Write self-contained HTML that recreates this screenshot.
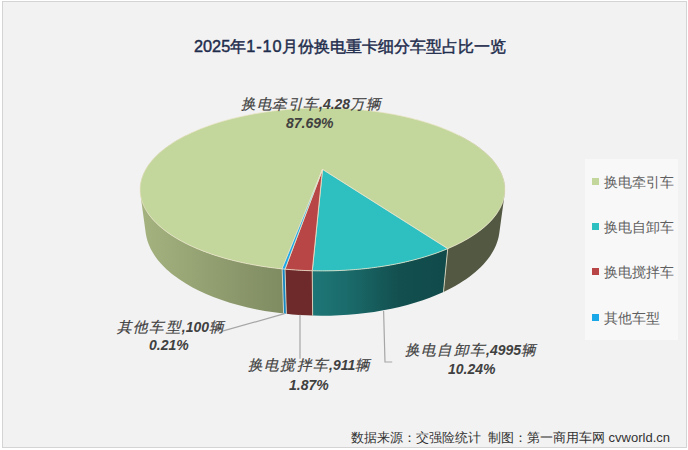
<!DOCTYPE html>
<html><head><meta charset="utf-8">
<style>
html,body{margin:0;padding:0;width:688px;height:450px;overflow:hidden;background:#fff;}
body{position:relative;font-family:"Liberation Sans",sans-serif;}
#frame{position:absolute;left:2px;top:1px;width:683px;height:445px;border:1px solid #d4d4d4;background:#f2f2f2;}
.t{position:absolute;white-space:nowrap;}
#title{left:194px;top:36px;font-size:16.3px;font-weight:normal;color:#1f2d4d;-webkit-text-stroke:0.45px #1f2d4d;}
.lbl{position:absolute;white-space:nowrap;font-style:italic;font-weight:bold;color:#404040;font-size:14px;text-align:center;line-height:20px;}
.lbl b{font-weight:normal;font-size:14.5px;letter-spacing:1.2px;-webkit-text-stroke:0.2px #404040;}
#legend{position:absolute;left:585px;top:159px;width:93px;height:181px;background:#f8f8f8;}
.li{position:absolute;left:7px;height:16px;font-size:14px;color:#5f5f5f;white-space:nowrap;line-height:16px;}
.li i{position:absolute;left:0;top:4px;width:7px;height:7px;}
.li span{position:absolute;left:12px;top:0;}
#wm{left:351px;top:429px;font-size:13px;color:#333;}
svg{position:absolute;left:0;top:0;}
</style></head><body>
<div id="frame"></div>
<svg width="688" height="450" viewBox="0 0 688 450">
<defs>
<linearGradient id="gs" gradientUnits="userSpaceOnUse" x1="140" y1="0" x2="505" y2="0">
<stop offset="0" stop-color="#a5b380"/>
<stop offset="0.39" stop-color="#7f8b61"/>
<stop offset="0.84" stop-color="#525841"/>
<stop offset="1" stop-color="#525841"/>
</linearGradient>
<linearGradient id="ts" gradientUnits="userSpaceOnUse" x1="312" y1="0" x2="446" y2="0">
<stop offset="0" stop-color="#1e7676"/>
<stop offset="0.25" stop-color="#1b6c6c"/>
<stop offset="0.65" stop-color="#134f4f"/>
<stop offset="1" stop-color="#114a4a"/>
</linearGradient>
</defs>
<g stroke="#ece6cc" stroke-width="0.8" stroke-linejoin="round">
<path d="M455.69,169.18 L459.61,171.48 L463.39,173.87 L467.03,176.34 L470.53,178.90 L473.87,181.53 L477.05,184.24 L480.05,187.04 L482.57,189.58 L485.23,192.52 L487.43,195.19 L489.72,198.26 L491.57,201.05 L493.24,203.89 L494.74,206.78 L496.05,209.72 L497.21,212.85 L495.36,215.45 L493.27,218.07 L490.96,220.67 L488.81,222.89 L486.10,225.46 L483.60,227.63 L480.48,230.15 L477.63,232.28 L474.11,234.72 L470.91,236.79 L467.55,238.82 L464.04,240.81 L459.74,243.08 L455.89,244.98 L451.88,246.84 L447.73,248.65 L443.47,291.92 L447.51,289.98 L451.39,287.99 L455.14,285.94 L459.32,283.50 L462.74,281.36 L466.01,279.18 L469.13,276.96 L472.58,274.32 L475.36,272.03 L478.41,269.33 L480.86,266.98 L483.52,264.21 L485.64,261.82 L487.91,259.01 L489.97,256.19 L491.83,253.35 L494.13,249.28 L496.01,245.20 L497.50,241.12 L498.09,239.09 L498.67,236.66 L499.24,233.43 L504.77,192.93 L504.94,189.24 L504.89,187.41 L504.70,185.23 L504.45,183.43 L504.03,181.28 L503.59,179.51 L502.94,177.40 L501.46,173.59 L500.49,171.54 L499.42,169.52 L497.16,165.89 L494.32,162.03 L491.37,158.59 L487.81,154.96 L483.90,151.44 L479.68,148.06 L475.15,144.81 L469.92,141.43 L464.83,138.46 L459.03,135.39 L455.69,169.18Z M143.49,173.77 L142.51,176.19 L141.80,178.29 L141.21,180.40 L140.74,182.54 L140.39,184.70 L140.18,186.88 L140.09,189.07 L140.13,191.28 L140.41,194.24 L145.82,233.64 L146.40,236.87 L147.48,240.93 L148.78,244.60 L150.60,248.68 L152.60,252.35 L154.93,256.00 L157.60,259.63 L160.62,263.23 L163.98,266.80 L166.42,269.15 L168.57,271.08 L171.29,273.39 L173.68,275.28 L179.30,279.37 L185.44,283.34 L192.08,287.15 L198.54,290.48 L206.11,293.97 L213.38,296.96 L221.80,300.05 L229.80,302.65 L238.13,305.05 L246.75,307.23 L255.63,309.18 L264.76,310.89 L274.09,312.35 L283.61,313.56 L282.16,268.85 L270.35,267.47 L259.77,265.90 L248.55,263.87 L237.71,261.53 L227.30,258.89 L217.37,255.98 L212.60,254.42 L207.96,252.80 L203.46,251.13 L198.39,249.10 L194.20,247.31 L190.15,245.46 L186.26,243.57 L181.92,241.31 L178.36,239.33 L174.42,236.97 L171.20,234.91 L167.66,232.46 L164.80,230.34 L161.66,227.83 L159.15,225.65 L156.42,223.09 L153.91,220.50 L151.62,217.89 L149.54,215.28 L147.82,212.85 L148.90,209.92 L150.20,206.98 L151.68,204.08 L153.57,200.89 L155.43,198.10 L157.72,195.03 L159.93,192.36 L162.60,189.43 L165.13,186.89 L168.14,184.10 L171.33,181.39 L174.68,178.76 L178.18,176.21 L181.83,173.75 L185.62,171.36 L189.55,169.06 L186.22,135.28 L182.16,137.39 L178.25,139.57 L174.47,141.82 L171.25,143.89 L167.76,146.29 L164.80,148.49 L161.63,151.02 L158.96,153.34 L156.14,156.01 L153.79,158.45 L151.61,160.94 L149.59,163.47 L147.75,166.06 L146.09,168.70 L144.62,171.39 L143.49,173.77Z" fill="url(#gs)" stroke="none"/>
<path d="M349.09,270.00 L339.94,270.50 L330.73,270.79 L321.49,270.87 L312.25,270.74 L312.62,315.58 L321.53,315.72 L330.43,315.63 L339.31,315.32 L348.14,314.79 L356.89,314.04 L365.54,313.07 L374.06,311.89 L383.35,310.34 L391.53,308.74 L399.50,306.94 L407.25,304.95 L415.59,302.54 L422.82,300.19 L429.77,297.69 L436.43,295.03 L443.47,291.92 L447.74,248.65 L442.69,250.69 L437.45,252.67 L432.02,254.56 L426.42,256.36 L420.63,258.08 L414.68,259.71 L408.57,261.24 L402.31,262.66 L395.91,263.99 L389.38,265.20 L382.72,266.30 L375.96,267.29 L369.11,268.17 L362.17,268.92 L355.15,269.55 L349.09,270.00Z" fill="url(#ts)" stroke="none"/>
<path d="M285.02,269.13 L286.35,313.85 L292.36,314.43 L299.42,314.96 L306.52,315.36 L312.63,315.58 L312.27,270.74 L304.87,270.49 L298.56,270.16 L292.29,269.74 L285.02,269.13Z" fill="#6e2a2a" stroke="none"/>
<path d="M282.01,268.84 L283.45,313.53 L286.36,313.86 L285.03,269.14 L282.01,268.84Z" fill="#1787c4" stroke="none"/>
<path d="M282.16,268.86 L283.60,313.55 M447.73,248.66 L443.47,291.91 M312.26,270.75 L312.63,315.57 M285.02,269.14 L286.36,313.85" fill="none"/>
<path d="M322.52,169.38 L282.16,268.86 L280.17,268.65 L278.19,268.44 L276.22,268.21 L274.26,267.98 L272.30,267.73 L270.35,267.48 L268.41,267.21 L266.47,266.94 L264.55,266.66 L262.63,266.36 L260.72,266.06 L258.82,265.75 L256.93,265.43 L255.05,265.10 L253.18,264.77 L251.32,264.42 L249.47,264.06 L247.63,263.70 L245.80,263.33 L243.98,262.94 L242.17,262.55 L240.38,262.15 L238.59,261.75 L236.82,261.33 L235.06,260.91 L233.32,260.48 L231.58,260.04 L229.86,259.59 L228.15,259.13 L226.45,258.67 L224.77,258.20 L223.10,257.72 L221.45,257.23 L219.81,256.74 L218.18,256.24 L216.57,255.73 L214.97,255.22 L213.38,254.69 L211.81,254.17 L210.26,253.63 L208.72,253.09 L207.20,252.54 L205.69,251.98 L204.20,251.42 L202.72,250.85 L201.26,250.28 L199.81,249.70 L198.38,249.11 L196.97,248.52 L195.57,247.92 L194.19,247.32 L192.83,246.71 L191.48,246.09 L190.15,245.47 L188.84,244.85 L187.54,244.22 L186.26,243.58 L185.00,242.94 L183.75,242.30 L182.52,241.65 L181.31,240.99 L180.12,240.33 L178.94,239.67 L177.78,239.00 L176.64,238.33 L175.52,237.66 L174.41,236.98 L173.32,236.29 L172.25,235.61 L171.20,234.92 L170.16,234.22 L169.15,233.53 L168.15,232.82 L167.17,232.12 L166.20,231.41 L165.26,230.70 L164.33,229.99 L163.42,229.27 L162.53,228.56 L161.65,227.84 L160.80,227.11 L159.96,226.39 L159.14,225.66 L158.34,224.93 L157.55,224.20 L156.79,223.46 L156.04,222.73 L155.31,221.99 L154.60,221.25 L153.90,220.51 L153.22,219.76 L152.56,219.02 L151.92,218.27 L151.30,217.53 L150.69,216.78 L150.10,216.03 L149.53,215.28 L148.98,214.53 L148.44,213.78 L147.92,213.03 L147.42,212.27 L146.94,211.52 L146.47,210.77 L146.02,210.01 L145.59,209.26 L145.17,208.51 L144.77,207.75 L144.39,207.00 L144.03,206.24 L143.68,205.49 L143.35,204.73 L143.03,203.98 L142.74,203.23 L142.45,202.47 L142.19,201.72 L141.94,200.97 L141.71,200.22 L141.49,199.47 L141.29,198.72 L141.10,197.97 L140.93,197.22 L140.78,196.47 L140.64,195.73 L140.52,194.98 L140.42,194.24 L140.33,193.49 L140.25,192.75 L140.19,192.01 L140.14,191.28 L140.11,190.54 L140.10,189.80 L140.10,189.07 L140.11,188.34 L140.14,187.61 L140.19,186.88 L140.25,186.15 L140.32,185.43 L140.40,184.70 L140.51,183.98 L140.62,183.26 L140.75,182.55 L140.89,181.83 L141.05,181.12 L141.22,180.41 L141.40,179.70 L141.60,178.99 L141.81,178.29 L142.03,177.59 L142.27,176.89 L142.52,176.19 L142.78,175.50 L143.06,174.81 L143.35,174.12 L143.65,173.43 L143.96,172.75 L144.29,172.07 L144.63,171.39 L144.98,170.72 L145.34,170.04 L145.71,169.37 L146.10,168.71 L146.50,168.04 L146.90,167.38 L147.33,166.72 L147.76,166.07 L148.20,165.42 L148.66,164.77 L149.12,164.12 L149.60,163.48 L150.09,162.84 L150.59,162.20 L151.09,161.57 L151.61,160.94 L152.15,160.32 L152.69,159.69 L153.24,159.07 L153.80,158.45 L154.37,157.84 L154.95,157.23 L155.54,156.62 L156.14,156.02 L156.75,155.42 L157.37,154.82 L158.00,154.23 L158.64,153.64 L159.29,153.06 L159.95,152.47 L160.62,151.89 L161.29,151.32 L161.98,150.75 L162.67,150.18 L163.37,149.61 L164.08,149.05 L164.80,148.49 L165.53,147.94 L166.27,147.39 L167.01,146.84 L167.77,146.30 L168.53,145.76 L169.29,145.22 L170.07,144.69 L170.86,144.16 L171.65,143.64 L172.45,143.12 L173.26,142.60 L174.07,142.09 L174.89,141.58 L175.72,141.07 L176.56,140.57 L177.40,140.07 L178.25,139.57 L179.11,139.08 L179.98,138.60 L180.85,138.11 L181.72,137.63 L182.61,137.16 L183.50,136.68 L184.40,136.22 L185.30,135.75 L186.21,135.29 L187.13,134.83 L188.05,134.38 L188.98,133.93 L189.92,133.49 L190.86,133.05 L191.80,132.61 L192.76,132.18 L193.71,131.75 L194.68,131.32 L195.65,130.90 L196.62,130.48 L197.60,130.07 L198.59,129.65 L199.58,129.25 L200.57,128.85 L201.58,128.45 L202.58,128.05 L203.59,127.66 L204.61,127.27 L205.63,126.89 L206.66,126.51 L207.69,126.14 L208.72,125.76 L209.76,125.40 L210.80,125.03 L211.85,124.67 L212.91,124.32 L213.96,123.96 L215.03,123.62 L216.09,123.27 L217.16,122.93 L218.24,122.59 L219.31,122.26 L220.40,121.93 L221.48,121.61 L222.57,121.29 L223.67,120.97 L224.76,120.65 L225.86,120.34 L226.97,120.04 L228.08,119.74 L229.19,119.44 L230.30,119.15 L231.42,118.86 L232.54,118.57 L233.67,118.29 L234.80,118.01 L235.93,117.73 L237.06,117.46 L238.20,117.19 L239.34,116.93 L240.49,116.67 L241.63,116.42 L242.78,116.16 L243.93,115.92 L245.09,115.67 L246.25,115.43 L247.41,115.20 L248.57,114.96 L249.74,114.74 L250.90,114.51 L252.08,114.29 L253.25,114.07 L254.42,113.86 L255.60,113.65 L256.78,113.44 L257.96,113.24 L259.15,113.04 L260.33,112.85 L261.52,112.66 L262.71,112.47 L263.91,112.29 L265.10,112.11 L266.30,111.94 L267.50,111.77 L268.70,111.60 L269.90,111.43 L271.10,111.27 L272.31,111.12 L273.51,110.97 L274.72,110.82 L275.93,110.67 L277.14,110.53 L278.36,110.39 L279.57,110.26 L280.79,110.13 L282.00,110.01 L283.22,109.88 L284.44,109.77 L285.66,109.65 L286.89,109.54 L288.11,109.43 L289.33,109.33 L290.56,109.23 L291.79,109.14 L293.01,109.04 L294.24,108.96 L295.47,108.87 L296.70,108.79 L297.93,108.72 L299.16,108.64 L300.40,108.57 L301.63,108.51 L302.86,108.45 L304.10,108.39 L305.33,108.33 L306.57,108.28 L307.80,108.24 L309.04,108.19 L310.28,108.16 L311.51,108.12 L312.75,108.09 L313.99,108.06 L315.23,108.04 L316.47,108.02 L317.70,108.00 L318.94,107.99 L320.18,107.98 L321.42,107.97 L322.66,107.97 L323.90,107.97 L325.14,107.98 L326.38,107.99 L327.62,108.00 L328.85,108.02 L330.09,108.04 L331.33,108.07 L332.57,108.10 L333.81,108.13 L335.04,108.16 L336.28,108.20 L337.52,108.25 L338.75,108.30 L339.99,108.35 L341.22,108.40 L342.46,108.46 L343.69,108.52 L344.92,108.59 L346.16,108.66 L347.39,108.73 L348.62,108.81 L349.85,108.89 L351.08,108.98 L352.30,109.07 L353.53,109.16 L354.76,109.25 L355.98,109.35 L357.21,109.46 L358.43,109.57 L359.65,109.68 L360.87,109.79 L362.09,109.91 L363.31,110.04 L364.53,110.16 L365.74,110.29 L366.96,110.43 L368.17,110.56 L369.38,110.71 L370.59,110.85 L371.80,111.00 L373.01,111.15 L374.21,111.31 L375.41,111.47 L376.62,111.64 L377.82,111.81 L379.01,111.98 L380.21,112.15 L381.40,112.33 L382.60,112.52 L383.79,112.70 L384.97,112.90 L386.16,113.09 L387.34,113.29 L388.52,113.49 L389.70,113.70 L390.88,113.91 L392.06,114.12 L393.23,114.34 L394.40,114.56 L395.57,114.79 L396.73,115.02 L397.89,115.25 L399.05,115.49 L400.21,115.73 L401.37,115.97 L402.52,116.22 L403.67,116.48 L404.81,116.73 L405.95,116.99 L407.09,117.26 L408.23,117.52 L409.37,117.80 L410.50,118.07 L411.62,118.35 L412.75,118.64 L413.87,118.92 L414.99,119.21 L416.10,119.51 L417.21,119.81 L418.32,120.11 L419.42,120.42 L420.52,120.73 L421.62,121.04 L422.71,121.36 L423.80,121.68 L424.89,122.01 L425.97,122.34 L427.05,122.67 L428.12,123.01 L429.19,123.35 L430.25,123.70 L431.31,124.05 L432.37,124.40 L433.42,124.76 L434.47,125.12 L435.51,125.48 L436.55,125.85 L437.59,126.22 L438.61,126.60 L439.64,126.98 L440.66,127.36 L441.67,127.75 L442.68,128.14 L443.69,128.54 L444.69,128.94 L445.68,129.34 L446.67,129.75 L447.66,130.16 L448.64,130.58 L449.61,131.00 L450.58,131.42 L451.54,131.85 L452.50,132.28 L453.45,132.71 L454.39,133.15 L455.33,133.59 L456.27,134.04 L457.19,134.49 L458.12,134.94 L459.03,135.40 L459.94,135.86 L460.84,136.33 L461.74,136.79 L462.63,137.27 L463.51,137.74 L464.39,138.22 L465.26,138.71 L466.12,139.20 L466.98,139.69 L467.83,140.18 L468.67,140.68 L469.50,141.19 L470.33,141.69 L471.15,142.20 L471.96,142.72 L472.77,143.24 L473.57,143.76 L474.36,144.28 L475.14,144.81 L475.92,145.35 L476.68,145.88 L477.44,146.42 L478.19,146.97 L478.94,147.52 L479.67,148.07 L480.40,148.62 L481.11,149.18 L481.82,149.74 L482.52,150.31 L483.21,150.88 L483.90,151.45 L484.57,152.03 L485.23,152.61 L485.89,153.19 L486.54,153.78 L487.17,154.37 L487.80,154.96 L488.42,155.56 L489.03,156.16 L489.63,156.77 L490.22,157.37 L490.80,157.98 L491.36,158.60 L491.92,159.22 L492.47,159.84 L493.01,160.46 L493.54,161.09 L494.06,161.72 L494.56,162.35 L495.06,162.99 L495.54,163.63 L496.02,164.27 L496.48,164.92 L496.93,165.57 L497.38,166.22 L497.80,166.88 L498.22,167.54 L498.63,168.20 L499.02,168.86 L499.41,169.53 L499.78,170.20 L500.14,170.87 L500.49,171.55 L500.82,172.23 L501.14,172.91 L501.45,173.59 L501.75,174.28 L502.04,174.97 L502.31,175.66 L502.57,176.35 L502.82,177.05 L503.05,177.75 L503.27,178.45 L503.48,179.16 L503.67,179.86 L503.85,180.57 L504.02,181.28 L504.17,182.00 L504.31,182.71 L504.44,183.43 L504.55,184.15 L504.65,184.87 L504.73,185.59 L504.80,186.32 L504.86,187.05 L504.90,187.78 L504.92,188.51 L504.93,189.24 L504.93,189.97 L504.91,190.71 L504.88,191.45 L504.83,192.19 L504.76,192.93 L504.69,193.67 L504.59,194.41 L504.48,195.15 L504.36,195.90 L504.22,196.65 L504.06,197.39 L503.89,198.14 L503.70,198.89 L503.49,199.64 L503.27,200.39 L503.04,201.14 L502.78,201.90 L502.51,202.65 L502.23,203.40 L501.93,204.15 L501.61,204.91 L501.27,205.66 L500.92,206.42 L500.55,207.17 L500.17,207.93 L499.76,208.68 L499.34,209.44 L498.91,210.19 L498.45,210.94 L497.98,211.70 L497.49,212.45 L496.99,213.20 L496.47,213.95 L495.92,214.71 L495.37,215.46 L494.79,216.21 L494.20,216.95 L493.59,217.70 L492.96,218.45 L492.31,219.19 L491.65,219.94 L490.97,220.68 L490.27,221.42 L489.55,222.16 L488.82,222.90 L488.07,223.63 L487.30,224.37 L486.51,225.10 L485.70,225.83 L484.88,226.56 L484.04,227.28 L483.18,228.00 L482.30,228.72 L481.40,229.44 L480.49,230.16 L479.56,230.87 L478.61,231.58 L477.64,232.28 L476.65,232.99 L475.65,233.69 L474.63,234.38 L473.59,235.08 L472.53,235.77 L471.46,236.45 L470.36,237.14 L469.25,237.81 L468.13,238.49 L466.98,239.16 L465.82,239.83 L464.64,240.49 L463.44,241.15 L462.22,241.80 L460.99,242.45 L459.74,243.09 L458.48,243.73 L457.19,244.36 L455.89,244.99 L454.57,245.62 L453.24,246.24 L451.89,246.85 L450.52,247.46 L449.14,248.06 L447.73,248.66Z" fill="#c3d69b"/>
<path d="M322.52,169.38 L447.73,248.66 L446.30,249.25 L444.86,249.84 L443.39,250.43 L441.91,251.01 L440.42,251.58 L438.91,252.14 L437.38,252.70 L435.84,253.25 L434.28,253.80 L432.71,254.34 L431.12,254.87 L429.51,255.39 L427.90,255.91 L426.26,256.42 L424.61,256.93 L422.95,257.42 L421.28,257.91 L419.59,258.39 L417.88,258.86 L416.16,259.33 L414.43,259.78 L412.69,260.23 L410.93,260.67 L409.16,261.10 L407.38,261.53 L405.59,261.94 L403.78,262.35 L401.96,262.75 L400.13,263.14 L398.29,263.52 L396.44,263.89 L394.58,264.25 L392.70,264.61 L390.82,264.95 L388.93,265.29 L387.02,265.62 L385.11,265.93 L383.19,266.24 L381.25,266.54 L379.31,266.83 L377.36,267.11 L375.41,267.38 L373.44,267.64 L371.47,267.89 L369.49,268.13 L367.50,268.36 L365.51,268.58 L363.50,268.80 L361.50,269.00 L359.49,269.19 L357.47,269.37 L355.44,269.54 L353.41,269.70 L351.38,269.85 L349.34,269.99 L347.30,270.12 L345.25,270.24 L343.20,270.35 L341.15,270.45 L339.10,270.54 L337.04,270.62 L334.98,270.69 L332.92,270.75 L330.85,270.79 L328.79,270.83 L326.72,270.86 L324.66,270.87 L322.59,270.88 L320.52,270.87 L318.46,270.86 L316.39,270.83 L314.32,270.80 L312.26,270.75Z" fill="#2ec0c0"/>
<path d="M322.52,169.38 L312.26,270.75 L310.15,270.69 L308.03,270.62 L305.92,270.54 L303.81,270.45 L301.71,270.35 L299.61,270.23 L297.51,270.11 L295.42,269.97 L293.33,269.83 L291.24,269.67 L289.16,269.51 L287.09,269.33 L285.02,269.14Z" fill="#b84646"/>
<path d="M322.52,169.38 L285.02,269.14 L282.01,268.85Z" fill="#1ba8e8"/>
</g>
<g stroke="#a6a6a6" stroke-width="1.2" fill="none">
<path d="M220.6,331.7 L284.6,313.7"/>
<path d="M300,314.7 L300,358.8"/>
<path d="M383.6,311 L385,362 L392.2,362"/>
</g>
</svg>
<div class="t" id="title">2025年<span style="letter-spacing:0.9px">1-10</span>月份换电重卡细分车型占比一览</div>
<div class="lbl" style="left:241px;top:94px"><b style="letter-spacing:0.6px">换电牵引车</b>,4.28<b style="letter-spacing:0.6px">万辆</b></div>
<div class="lbl" style="left:286px;top:113px">87.69%</div>
<div class="lbl" style="left:117px;top:317px"><b>其他车型</b>,100<b>辆</b></div>
<div class="lbl" style="left:149px;top:335px">0.21%</div>
<div class="lbl" style="left:248px;top:355px"><b>换电搅拌车</b>,911<b>辆</b></div>
<div class="lbl" style="left:289px;top:375px">1.87%</div>
<div class="lbl" style="left:405px;top:340px"><b>换电自卸车</b>,4995<b>辆</b></div>
<div class="lbl" style="left:448px;top:359px">10.24%</div>
<div id="legend">
<div class="li" style="top:15px"><i style="background:#c3d69b"></i><span>换电牵引车</span></div>
<div class="li" style="top:60px"><i style="background:#2ec0c0"></i><span>换电自卸车</span></div>
<div class="li" style="top:105px"><i style="background:#b84646"></i><span>换电搅拌车</span></div>
<div class="li" style="top:151px"><i style="background:#1ba8e8"></i><span>其他车型</span></div>
</div>
<div class="t" id="wm">数据来源：交强险统计<span style="margin-left:7px">制图</span>：第一商用车网 cvworld.cn</div>
</body></html>
